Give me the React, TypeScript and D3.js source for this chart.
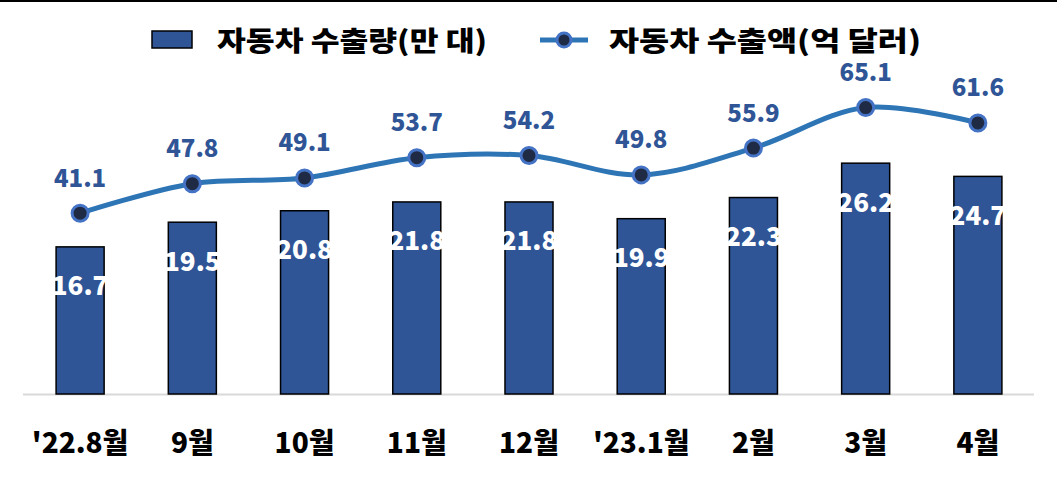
import React from "react";
import * as d3 from "d3";

const categories = ["'22.8월", "9월", "10월", "11월", "12월", "'23.1월", "2월", "3월", "4월"];
const exportVolume = [16.7, 19.5, 20.8, 21.8, 21.8, 19.9, 22.3, 26.2, 24.7];
const exportValue = [41.1, 47.8, 49.1, 53.7, 54.2, 49.8, 55.9, 65.1, 61.6];
const legendLabels = ["자동차 수출량(만 대)", "자동차 수출액(억 달러)"];

const W = 1057;
const H = 479;
const FONT = "'Noto Sans CJK KR', 'Noto Sans', sans-serif";
const BAR = "#2F5597";
const LINE = "#2E75B6";
const LABEL = "#2F5597";

export default function App() {
  const baseY = 394;
  const x = d3
    .scaleBand<string>()
    .domain(categories)
    .range([24, 1034])
    .paddingInner(0.572)
    .paddingOuter(0.286);
  const yBar = d3.scaleLinear().domain([0, 40]).range([baseY, baseY - 40 * 8.81]);
  const yLine = d3.scaleLinear().domain([0, 80]).range([baseY, baseY - 80 * 4.4]);
  const cx = (c: string) => (x(c) as number) + x.bandwidth() / 2;

  const linePath = d3
    .line<number>()
    .x((_, i) => cx(categories[i]))
    .y((d) => yLine(d))
    .curve(d3.curveCatmullRom.alpha(0.5))(exportValue) as string;

  return (
    <div style={{ position: "fixed", left: 0, top: 0 }}>
      <svg width={W} height={H} style={{ display: "block", background: "#fff" }}>
        <line x1={0} x2={W} y1={1} y2={1} stroke="#000" strokeWidth={2} />
        {/* legend */}
        <g fontFamily={FONT} fontWeight={800} fontSize={27} fill="#000">
          <rect x={152} y={31} width={40} height={17} fill={BAR} stroke="#000" strokeWidth={1.5} />
          <text x={217} y={39} dominantBaseline="central" textLength={270} lengthAdjust="spacingAndGlyphs">
            {legendLabels[0]}
          </text>
          <line x1={540} x2={588} y1={40} y2={40} stroke={LINE} strokeWidth={5} />
          <circle cx={564} cy={40} r={7} fill="#1F2A44" stroke="#4472C4" strokeWidth={3} />
          <text x={609} y={39} dominantBaseline="central" textLength={312} lengthAdjust="spacingAndGlyphs">
            {legendLabels[1]}
          </text>
        </g>
        {/* baseline */}
        <line x1={23} x2={1034} y1={baseY + 0.5} y2={baseY + 0.5} stroke="#D9D9D9" strokeWidth={2} />
        {/* bars */}
        {exportVolume.map((v, i) => (
          <rect
            key={"b" + i}
            x={x(categories[i])}
            y={yBar(v)}
            width={x.bandwidth()}
            height={baseY - yBar(v)}
            fill={BAR}
            stroke="#000"
            strokeWidth={1.5}
          />
        ))}
        {exportVolume.map((v, i) => (
          <text
            key={"bl" + i}
            x={cx(categories[i])}
            y={yBar(v) + 37}
            textAnchor="middle"
            dominantBaseline="central"
            fontFamily={FONT}
            fontWeight={800}
            fontSize={26}
            fill="#fff"
          >
            {v.toFixed(1)}
          </text>
        ))}
        {/* line */}
        <path d={linePath} fill="none" stroke={LINE} strokeWidth={5} />
        {exportValue.map((v, i) => (
          <circle
            key={"p" + i}
            cx={cx(categories[i])}
            cy={yLine(v)}
            r={8}
            fill="#1F2A44"
            stroke="#4472C4"
            strokeWidth={3}
          />
        ))}
        {exportValue.map((v, i) => (
          <text
            key={"pl" + i}
            x={cx(categories[i])}
            y={yLine(v) - 37}
            textAnchor="middle"
            dominantBaseline="central"
            fontFamily={FONT}
            fontWeight={800}
            fontSize={24}
            fill={LABEL}
          >
            {v.toFixed(1)}
          </text>
        ))}
        {/* x axis labels */}
        {categories.map((c) => (
          <text
            key={"x" + c}
            x={cx(c)}
            y={441}
            textAnchor="middle"
            dominantBaseline="central"
            fontFamily={FONT}
            fontWeight={800}
            fontSize={28}
            fill="#000"
          >
            {c}
          </text>
        ))}
      </svg>
    </div>
  );
}
